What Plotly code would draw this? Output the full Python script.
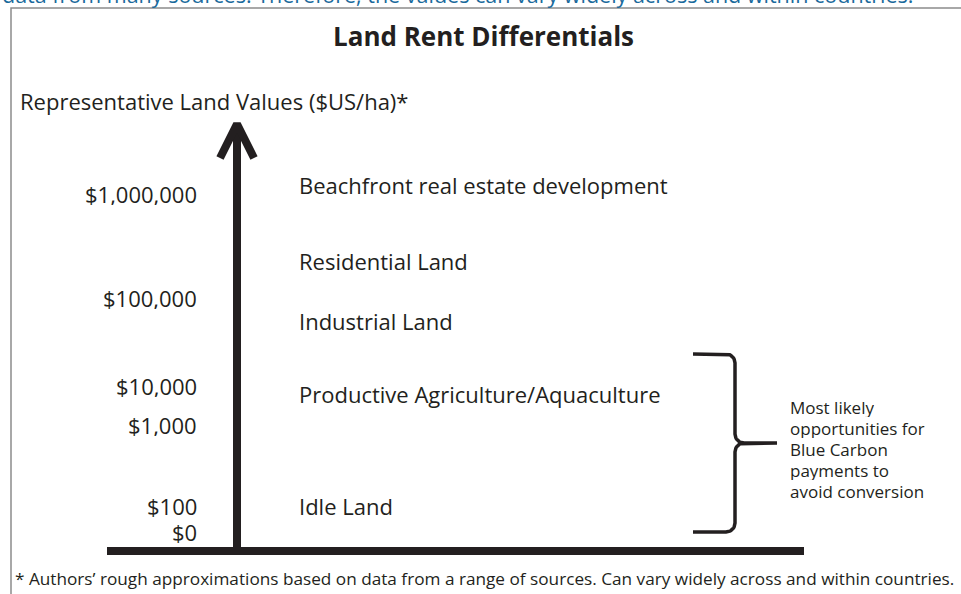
import numpy as np
import plotly.graph_objects as go

# ---------------- data ----------------
tick_labels = ["$1,000,000", "$100,000", "$10,000", "$1,000", "$100", "$0"]
tick_levels = [357, 253, 165, 126, 45, 19]          # schematic height above the baseline

categories = ["Beachfront real estate development", "Residential Land", "Industrial Land",
              "Productive Agriculture/Aquaculture", "Idle Land"]
category_levels = [366, 290, 230, 157, 45]

brace_range = [19, 197]                              # span of the "Blue Carbon" bracket
brace_note = ["Most likely", "opportunities for", "Blue Carbon", "payments to", "avoid conversion"]

title_text = "Land Rent Differentials"
axis_title = "Representative Land Values ($US/ha)*"
footnote = ("* Authors\u2019 rough approximations based on data from a range of sources. "
            "Can vary widely across and within countries.")
intro_tail = ("data from many sources. Therefore, the values can vary widely across "
              "and within countries.")

# ---------------- styling ----------------
INK = "#231f20"
FONT = "Open Sans"
W, H = 961, 594
X0, X1 = -237, 724        # horizontal extent (arrow at 0)
Y0, Y1 = -43, 551         # vertical extent (baseline at 0)
ARROW_TOP = 427
LW = 8
LABEL_SIZE = 22

fig = go.Figure()

# vertical arrow shaft and head
fig.add_trace(go.Scatter(x=[0, 0], y=[0, ARROW_TOP - 3], mode="lines",
                         line=dict(color=INK, width=LW), hoverinfo="skip"))
fig.add_trace(go.Scatter(x=[-17, 0, 17], y=[ARROW_TOP - 34, ARROW_TOP, ARROW_TOP - 34],
                         mode="lines", line=dict(color=INK, width=LW), hoverinfo="skip"))
# horizontal baseline
fig.add_trace(go.Scatter(x=[-130, 567], y=[0, 0], mode="lines",
                         line=dict(color=INK, width=LW), hoverinfo="skip"))

# curly bracket built from the brace range
b_lo, b_hi = brace_range
mid = (b_lo + b_hi) / 2
xa, xv, xt, r = 456, 498, 540, 9
th = np.linspace(0, np.pi / 2, 12)
bx, by = [xa], [b_hi]
bx += list(xv - r + r * np.sin(th)); by += list(b_hi - r + r * np.cos(th))
bx += list(xv + r - r * np.cos(th)); by += list(mid + r - r * np.sin(th))
bx += [xt]; by += [mid]
bx += list(xv + r - r * np.cos(th[::-1])); by += list(mid - r + r * np.sin(th[::-1]))
bx += list(xv - r + r * np.cos(th)); by += list(b_lo + r - r * np.sin(th))
bx += [xa]; by += [b_lo]
fig.add_trace(go.Scatter(x=bx, y=by, mode="lines", line=dict(color=INK, width=3.5),
                         hoverinfo="skip"))

annotations = []
for lab, lv in zip(tick_labels, tick_levels):
    annotations.append(dict(x=-39, y=lv, xref="x", yref="y", text=lab, showarrow=False,
                            xanchor="right", yanchor="middle", height=22, borderpad=0,
                            font=dict(family=FONT, size=LABEL_SIZE, color=INK)))
for lab, lv in zip(categories, category_levels):
    annotations.append(dict(x=60, y=lv, xref="x", yref="y", text=lab, showarrow=False,
                            xanchor="left", yanchor="middle",
                            font=dict(family=FONT, size=LABEL_SIZE, color=INK)))
for i, line in enumerate(brace_note):
    annotations.append(dict(x=552, y=mid - 6 + (2 - i) * 21, xref="x", yref="y", text=line,
                            showarrow=False, xanchor="left", yanchor="middle",
                            height=19, borderpad=0,
                            font=dict(family=FONT, size=17, color=INK)))
annotations.append(dict(x=-219, y=450, xref="x", yref="y", text=axis_title, showarrow=False,
                        xanchor="left", yanchor="middle",
                        font=dict(family=FONT, size=LABEL_SIZE, color=INK)))
annotations.append(dict(x=0.503, y=1 - 36 / H, xref="paper", yref="paper",
                        text="<b>" + title_text + "</b>", showarrow=False,
                        xanchor="center", yanchor="middle",
                        font=dict(family=FONT, size=26, color=INK)))
annotations.append(dict(x=13 / W, y=1 - 578 / H, xref="paper", yref="paper", text=footnote,
                        showarrow=False, xanchor="left", yanchor="middle",
                        font=dict(family=FONT, size=17.2, color=INK)))
annotations.append(dict(x=0, y=1 - 11 / H, xref="paper", yref="paper", text=intro_tail,
                        showarrow=False, xanchor="left", yanchor="bottom",
                        font=dict(family=FONT, size=21.5, color="#1a6a9c")))

fig.update_layout(
    width=W, height=H,
    margin=dict(l=0, r=0, t=0, b=0),
    paper_bgcolor="white", plot_bgcolor="white",
    showlegend=False,
    xaxis=dict(range=[X0, X1], visible=False, fixedrange=True),
    yaxis=dict(range=[Y0, Y1], visible=False, fixedrange=True),
    annotations=annotations,
    shapes=[dict(type="path", xref="paper", yref="paper",
                 path=f"M {11/W},-0.05 L {11/W},{1-8/H} L 1.05,{1-8/H}",
                 line=dict(color="#8c8c8c", width=1.5))],
)

fig.write_html("out.html", config={"displayModeBar": False},
               post_script="document.body.style.margin='0';document.body.style.overflow='hidden';")
